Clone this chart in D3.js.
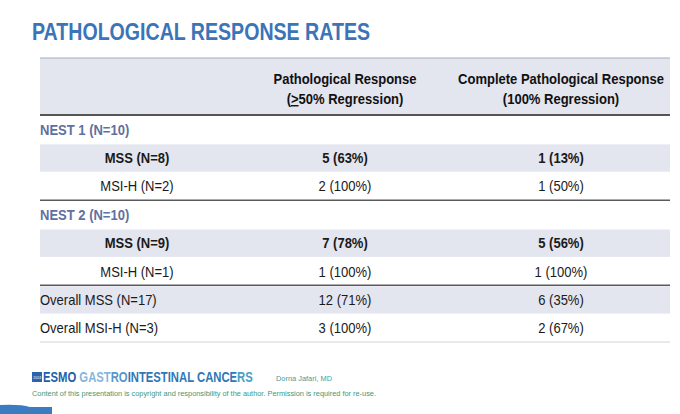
<!DOCTYPE html>
<html>
<head>
<meta charset="utf-8">
<script src="https://cdn.jsdelivr.net/npm/d3@7"></script>
<style>
  body { margin: 0; background: #fff; }
  svg { display: block; font-family: 'Liberation Sans', Arial, sans-serif; }
</style>
</head>
<body>
<script>
const columns = ['label', 'pr', 'cpr'];
const headerLine1 = ['', 'Pathological Response', 'Complete Pathological Response'];
const headerLine2 = ['', '(≥50% Regression)', '(100% Regression)'];

const rowLabels = ['NEST 1 (N=10)', 'MSS (N=8)', 'MSI-H (N=2)', 'NEST 2 (N=10)',
                   'MSS (N=9)', 'MSI-H (N=1)', 'Overall MSS (N=17)', 'Overall MSI-H (N=3)'];
const rowKinds = ['group', 'bold', 'plain', 'group', 'bold', 'plain', 'overall', 'overall'];
const prCount = [null, 5, 2, null, 7, 1, 12, 3];
const prPct = [null, 63, 100, null, 78, 100, 71, 100];
const cprCount = [null, 1, 1, null, 5, 1, 6, 2];
const cprPct = [null, 13, 50, null, 56, 100, 35, 67];

const width = 680,
      height = 414,
      tableLeft = 40,
      tableRight = 670,
      headTop = 58,
      headBottom = 115,
      tableBottom = 342,
      squeeze = 0.93;

const shade = '#e3e5ef';

const svg = d3.select('body')
              .append('svg')
              .attr('width', width)
              .attr('height', height);

svg.append('text')
   .attr('x', 32)
   .attr('y', 40)
   .attr('fill', '#3b74b8')
   .attr('font-size', 23)
   .attr('font-weight', 'bold')
   .attr('textLength', 338)
   .attr('lengthAdjust', 'spacingAndGlyphs')
   .text('PATHOLOGICAL RESPONSE RATES');

const y = d3.scaleBand()
            .domain(d3.range(rowLabels.length))
            .range([headBottom, tableBottom]);

const x = d3.scaleOrdinal()
            .domain(columns)
            .range([137, 345, 561]);

function place(px, py) {
  return 'translate(' + px + ',' + py + ') scale(' + squeeze + ',1)';
}

// header
svg.append('rect')
   .attr('x', tableLeft)
   .attr('y', headTop)
   .attr('width', tableRight - tableLeft)
   .attr('height', headBottom - headTop)
   .attr('fill', shade);

svg.append('line')
   .attr('x1', tableLeft).attr('x2', tableRight)
   .attr('y1', headTop).attr('y2', headTop)
   .attr('stroke', '#a4abc4')
   .attr('stroke-width', 1);

const head = svg.append('g')
                .attr('font-weight', 'bold')
                .attr('font-size', 14)
                .attr('fill', '#111')
                .attr('text-anchor', 'middle');

head.selectAll('text.l1')
    .data(columns.slice(1))
    .enter()
    .append('text')
    .attr('class', 'l1')
    .attr('transform', function(d) { return place(x(d), 84); })
    .text(function(d, i) { return headerLine1[i + 1]; });

const l2 = head.selectAll('text.l2')
               .data(columns.slice(1))
               .enter()
               .append('text')
               .attr('class', 'l2')
               .attr('transform', function(d) { return place(x(d), 104); });

l2.each(function(d, i) {
  const t = d3.select(this),
        s = headerLine2[i + 1];
  if (s.indexOf('≥') >= 0) {
    const parts = s.split('≥');
    t.append('tspan').text(parts[0]);
    t.append('tspan').style('text-decoration', 'underline').text('>');
    t.append('tspan').text(parts[1]);
  } else {
    t.text(s);
  }
});

// row shading
svg.selectAll('rect.row')
   .data(d3.range(rowLabels.length).filter(function(i) { return rowKinds[i] === 'bold' || i === 6; }))
   .enter()
   .append('rect')
   .attr('class', 'row')
   .attr('x', tableLeft)
   .attr('y', function(i) { return y(i) + 1; })
   .attr('width', tableRight - tableLeft)
   .attr('height', y.bandwidth() - 1)
   .attr('fill', shade);

// rules
svg.append('line')
   .attr('x1', tableLeft).attr('x2', tableRight)
   .attr('y1', headBottom).attr('y2', headBottom)
   .attr('stroke', '#555')
   .attr('stroke-width', 2);

svg.selectAll('line.sep')
   .data([2, 5])
   .enter()
   .append('line')
   .attr('class', 'sep')
   .attr('x1', tableLeft).attr('x2', tableRight)
   .attr('y1', function(i) { return y(i) + y.bandwidth(); })
   .attr('y2', function(i) { return y(i) + y.bandwidth(); })
   .attr('stroke', '#5a5a5a')
   .attr('stroke-width', 1.5);

svg.append('line')
   .attr('x1', tableLeft).attr('x2', tableRight)
   .attr('y1', tableBottom).attr('y2', tableBottom)
   .attr('stroke', '#e2e2e6')
   .attr('stroke-width', 1.5);

// rows
const rows = svg.selectAll('g.tr')
                .data(d3.range(rowLabels.length))
                .enter()
                .append('g')
                .attr('class', 'tr')
                .attr('transform', function(i) { return 'translate(0,' + (y(i) + y.bandwidth() / 2 + 5.5) + ')'; })
                .attr('font-size', 14);

function leftAligned(i) {
  return rowKinds[i] === 'group' || rowKinds[i] === 'overall';
}

rows.append('text')
    .attr('transform', function(i) { return place(leftAligned(i) ? tableLeft : x('label'), 0); })
    .attr('text-anchor', function(i) { return leftAligned(i) ? 'start' : 'middle'; })
    .attr('font-weight', function(i) { return rowKinds[i] === 'group' || rowKinds[i] === 'bold' ? 'bold' : 'normal'; })
    .attr('fill', function(i) { return rowKinds[i] === 'group' ? '#6070a0' : '#1a1a1a'; })
    .text(function(i) { return rowLabels[i]; });

rows.filter(function(i) { return prCount[i] !== null; })
    .each(function(i) {
      const g = d3.select(this);
      [['pr', prCount[i], prPct[i]], ['cpr', cprCount[i], cprPct[i]]].forEach(function(c) {
        g.append('text')
         .attr('transform', place(x(c[0]), 0))
         .attr('text-anchor', 'middle')
         .attr('font-weight', rowKinds[i] === 'bold' ? 'bold' : 'normal')
         .attr('fill', '#1a1a1a')
         .text(c[1] + ' (' + c[2] + '%)');
      });
    });

// footer
const foot = svg.append('g');

foot.append('rect')
    .attr('x', 32).attr('y', 372)
    .attr('width', 10).attr('height', 10)
    .attr('fill', '#2a64ad');

foot.append('text')
    .attr('x', 33.3).attr('y', 378.8)
    .attr('font-size', 3.5)
    .attr('fill', '#fff')
    .text('2024');

const logo = foot.append('text')
                 .attr('font-size', 14)
                 .attr('font-weight', 'bold');

logo.append('tspan').attr('fill', '#1f5ea8').text('ESMO ');
logo.append('tspan').attr('fill', '#86b6de').text('GAST');
logo.append('tspan').attr('fill', '#5a96cc').text('RO');
logo.append('tspan').attr('fill', '#2f77b6').text('INTESTINAL CANCE');
logo.append('tspan').attr('fill', '#46a0c4').text('RS');

const logoWidth = logo.node().getComputedTextLength();
logo.attr('transform', 'translate(43,382) scale(' + (210 / logoWidth) + ',1)');

foot.append('text')
    .attr('x', 276).attr('y', 381)
    .attr('font-size', 8)
    .attr('fill', '#4a9a9a')
    .attr('textLength', 56)
    .attr('lengthAdjust', 'spacingAndGlyphs')
    .text('Dorna Jafari, MD');

foot.append('text')
    .attr('x', 32).attr('y', 396)
    .attr('font-size', 7.5)
    .attr('fill', '#3a9a7a')
    .attr('textLength', 344)
    .attr('lengthAdjust', 'spacingAndGlyphs')
    .text('Content of this presentation is copyright and responsibility of the author. Permission is required for re-use.');

foot.append('path')
    .attr('d', 'M0,405 Q20,404 30,407 L52,407 L52,414 L0,414 Z')
    .attr('fill', '#3a7bc2');
</script>
</body>
</html>
